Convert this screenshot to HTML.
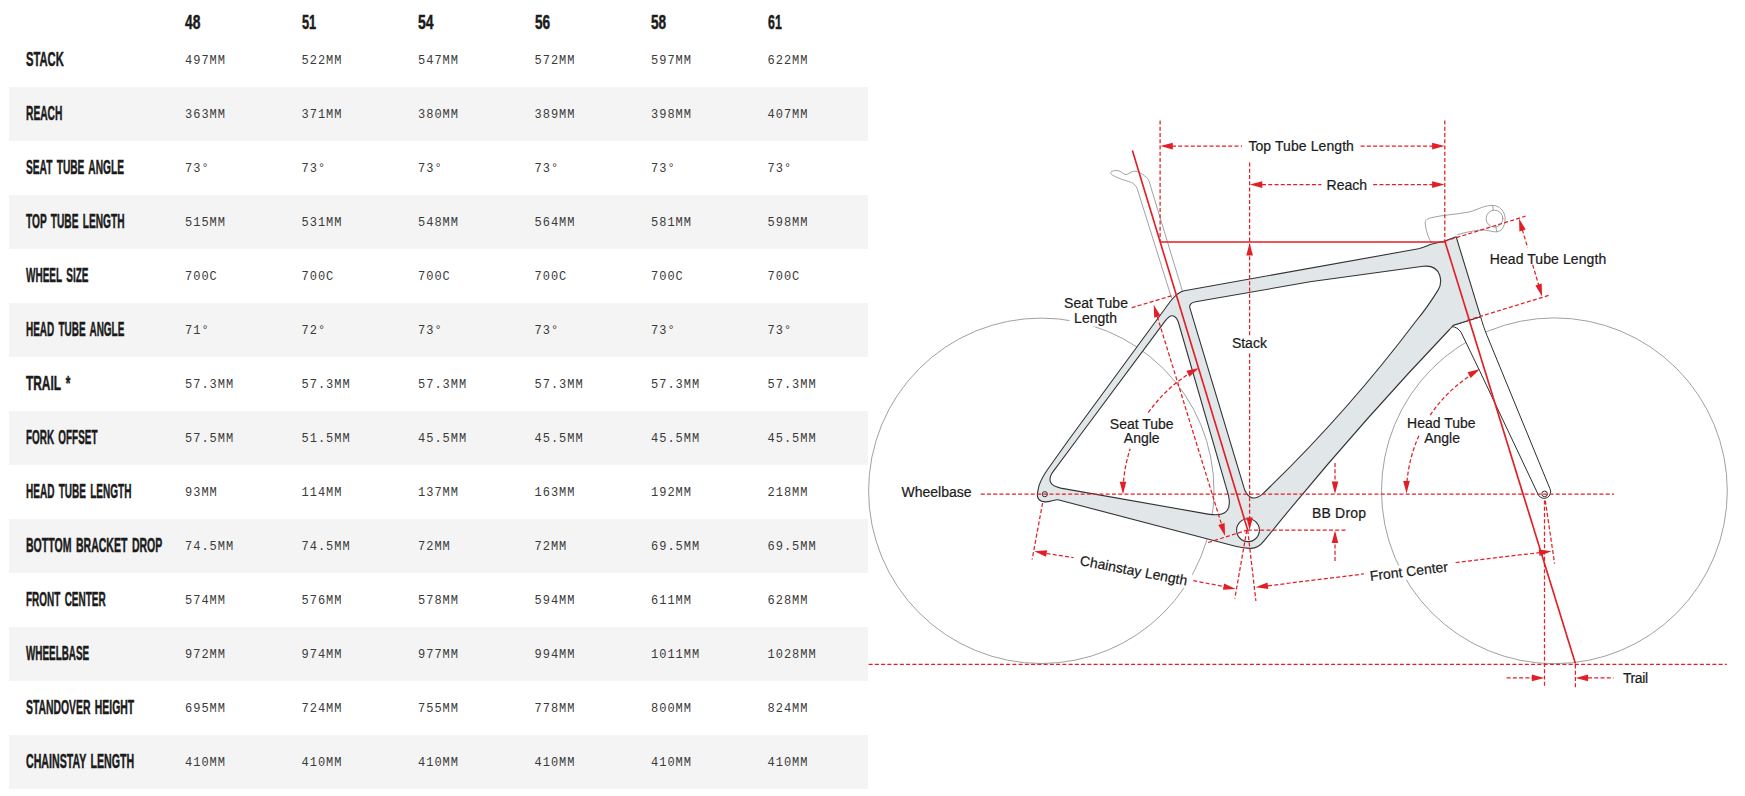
<!DOCTYPE html>
<html lang="en">
<head>
<meta charset="utf-8">
<title>Geometry</title>
<style>
html,body{margin:0;padding:0;background:#fff;}
body{width:1745px;height:796px;position:relative;overflow:hidden;font-family:"Liberation Sans",sans-serif;}
.geo{position:absolute;left:9px;top:0;width:859px;}
table.gt{border-collapse:collapse;border-spacing:0;table-layout:fixed;width:859px;}
table.gt th,table.gt td{padding:0;margin:0;text-align:left;vertical-align:middle;white-space:nowrap;overflow:visible;}
table.gt thead th{height:33px;font:bold 21px/20px "Liberation Sans",sans-serif;color:#1b1b1b;vertical-align:top;}
table.gt thead th .c{position:relative;top:11.6px;}
table.gt th.l{padding-left:16.7px;box-sizing:border-box;}
table.gt tbody tr{height:54px;}
table.gt tbody tr.g{background:#f4f4f4;}
table.gt tbody th{font:bold 21px/20px "Liberation Sans",sans-serif;color:#1b1b1b;}
table.gt .c{display:inline-block;transform-origin:0 50%;word-spacing:3px;-webkit-text-stroke:.5px #1b1b1b;}
table.gt td{font:12px/16px "Liberation Mono",monospace;color:#3a3a3a;letter-spacing:1px;}
table.gt tbody td{padding-top:2px;}
table.gt tbody th{padding-bottom:2px;}
svg.dg{position:absolute;left:0;top:0;}
svg.dg text{font-family:"Liberation Sans",sans-serif;font-size:14px;fill:#1a1a1a;stroke:#1a1a1a;stroke-width:.2px;}
</style>
</head>
<body>
<div class="geo">
<table class="gt">
<colgroup><col style="width:176px"><col style="width:116.5px"><col style="width:116.5px"><col style="width:116.5px"><col style="width:116.5px"><col style="width:116.5px"><col style="width:100.5px"></colgroup>
<thead>
<tr><th class="l"></th><th><span class="c" style="transform:scaleX(0.657)">48</span></th><th><span class="c" style="transform:scaleX(0.610)">51</span></th><th><span class="c" style="transform:scaleX(0.667)">54</span></th><th><span class="c" style="transform:scaleX(0.648)">56</span></th><th><span class="c" style="transform:scaleX(0.648)">58</span></th><th><span class="c" style="transform:scaleX(0.590)">61</span></th></tr>
</thead>
<tbody>
<tr class="w"><th class="l"><span class="c" style="transform:scaleX(0.533)">STACK</span></th><td>497MM</td><td>522MM</td><td>547MM</td><td>572MM</td><td>597MM</td><td>622MM</td></tr>
<tr class="g"><th class="l"><span class="c" style="transform:scaleX(0.487)">REACH</span></th><td>363MM</td><td>371MM</td><td>380MM</td><td>389MM</td><td>398MM</td><td>407MM</td></tr>
<tr class="w"><th class="l"><span class="c" style="transform:scaleX(0.485)">SEAT TUBE ANGLE</span></th><td>73°</td><td>73°</td><td>73°</td><td>73°</td><td>73°</td><td>73°</td></tr>
<tr class="g"><th class="l"><span class="c" style="transform:scaleX(0.484)">TOP TUBE LENGTH</span></th><td>515MM</td><td>531MM</td><td>548MM</td><td>564MM</td><td>581MM</td><td>598MM</td></tr>
<tr class="w"><th class="l"><span class="c" style="transform:scaleX(0.477)">WHEEL SIZE</span></th><td>700C</td><td>700C</td><td>700C</td><td>700C</td><td>700C</td><td>700C</td></tr>
<tr class="g"><th class="l"><span class="c" style="transform:scaleX(0.475)">HEAD TUBE ANGLE</span></th><td>71°</td><td>72°</td><td>73°</td><td>73°</td><td>73°</td><td>73°</td></tr>
<tr class="w"><th class="l"><span class="c" style="transform:scaleX(0.566)">TRAIL *</span></th><td>57.3MM</td><td>57.3MM</td><td>57.3MM</td><td>57.3MM</td><td>57.3MM</td><td>57.3MM</td></tr>
<tr class="g"><th class="l"><span class="c" style="transform:scaleX(0.473)">FORK OFFSET</span></th><td>57.5MM</td><td>51.5MM</td><td>45.5MM</td><td>45.5MM</td><td>45.5MM</td><td>45.5MM</td></tr>
<tr class="w"><th class="l"><span class="c" style="transform:scaleX(0.478)">HEAD TUBE LENGTH</span></th><td>93MM</td><td>114MM</td><td>137MM</td><td>163MM</td><td>192MM</td><td>218MM</td></tr>
<tr class="g"><th class="l"><span class="c" style="transform:scaleX(0.502)">BOTTOM BRACKET DROP</span></th><td>74.5MM</td><td>74.5MM</td><td>72MM</td><td>72MM</td><td>69.5MM</td><td>69.5MM</td></tr>
<tr class="w"><th class="l"><span class="c" style="transform:scaleX(0.476)">FRONT CENTER</span></th><td>574MM</td><td>576MM</td><td>578MM</td><td>594MM</td><td>611MM</td><td>628MM</td></tr>
<tr class="g"><th class="l"><span class="c" style="transform:scaleX(0.471)">WHEELBASE</span></th><td>972MM</td><td>974MM</td><td>977MM</td><td>994MM</td><td>1011MM</td><td>1028MM</td></tr>
<tr class="w"><th class="l"><span class="c" style="transform:scaleX(0.495)">STANDOVER HEIGHT</span></th><td>695MM</td><td>724MM</td><td>755MM</td><td>778MM</td><td>800MM</td><td>824MM</td></tr>
<tr class="g"><th class="l"><span class="c" style="transform:scaleX(0.506)">CHAINSTAY LENGTH</span></th><td>410MM</td><td>410MM</td><td>410MM</td><td>410MM</td><td>410MM</td><td>410MM</td></tr>
</tbody>
</table>
</div>
<svg class="dg" width="1745" height="796" viewBox="0 0 1745 796">
<g fill="none" stroke="#959595" stroke-width="0.9"><circle cx="1041.3" cy="490.8" r="172.7"/><circle cx="1554.4" cy="490.8" r="172.9"/></g>
<g fill="#fff" stroke="none"><rect x="1069.5" y="310.5" width="51.5" height="16"/><rect x="-2" y="-11.8" width="115" height="15" transform="translate(1079.3 565) rotate(10.8)"/><rect x="-2" y="-11.8" width="84" height="15" transform="translate(1370.4 580.9) rotate(-7)"/></g>
<g fill="none" stroke="#969696" stroke-width="0.9" stroke-linejoin="round" stroke-linecap="round">
<path d="M1182.4 291 L1150.8 187 C1149.5 181 1147.5 177.5 1144.7 176 C1140.5 172.5 1137 170.8 1133.4 171.3 C1130 172.2 1128.5 174.6 1125.8 174.5 C1123 174.2 1121 171 1118.3 170.7 C1115 170.2 1111.5 170.8 1110.7 172.4 C1110.2 174.5 1114 176 1118.3 177.9 C1122.5 180 1127.5 180.8 1131.5 182.5 C1134.5 184 1136 186 1137.1 188.4 L1171.6 298"/>
<path d="M1431.3 242.6 C1428.5 238 1426.5 232 1425.7 227.1 C1425 223.5 1425 221.8 1425.9 220.5 C1427 218.8 1429 218.2 1431.3 217.7 C1437 216.4 1442.5 215.6 1448.3 214.9 C1455.5 214 1462 213.4 1469 212 C1474 210.8 1478 208.8 1482.2 207.3 C1485.8 206.1 1489 205.4 1492.6 205.4 C1498 205.6 1502 208.8 1503.9 213 C1505.2 216 1505.4 219.2 1504.8 222.4 C1504.2 225.6 1503 228.2 1501.1 230 C1499.2 231.5 1497 232 1494.5 231.8 C1490.5 231.2 1486.3 230 1482.2 230 C1477.8 230.1 1473.5 231 1469 231.8 C1465 232.6 1461.2 233.6 1457.7 234.7"/>
<circle cx="1494.5" cy="218.6" r="8.4"/>
<path d="M1492.7 205.5 L1493.2 210.3 M1495.9 227 L1496.7 231.8"/>
</g>
<path d="M1480.6 316.7 C1482.6 323.5 1484.3 329 1487 335.5 L1549.9 488.6 A6.3 6.3 0 0 1 1538.4 495 L1479.6 370.7 L1461.1 332.4 C1458.6 328.6 1455.4 326.8 1451.9 326.6 L1453.3 325.3 Z" fill="#fff" stroke="#2e2e2e" stroke-width="1" stroke-linejoin="round"/>
<path fill-rule="evenodd" fill="#e1e6e8" stroke="#333" stroke-width="1.1" stroke-linejoin="round" d="M1171 300.5 Q1178.3 291.9 1184.3 290.8 L1418.4 248.8 C1424 247.6 1427.5 245.6 1431 244.3 L1444.8 241 L1456.1 236.7 L1480.6 316.7 L1453.3 325.3 L1449.5 329.5 Q1352.5 431.3 1263.8 541.2 C1260 546 1256 548.4 1251 548.4 C1245.5 548.6 1240.5 547.6 1235.4 546.3 L1058 499.7 C1054 499.6 1050.5 501.8 1045.4 501.9 C1039.5 501.9 1036.6 498 1037.5 493.2 C1038.2 489 1038.6 487 1039.2 485.2 C1041.5 478.5 1044 474.5 1048.3 468.5 L1068.6 440 Z M1165.4 320.7 C1168 317.2 1171 315.2 1173.5 316 C1176 317 1177.6 319.6 1178.6 323 L1228.4 495.2 Q1233.9 518.6 1208 514.1 L1060.7 488.1 Q1045 484.5 1052.2 472.8 L1076.6 440 Z M1190 308.4 Q1188.4 303.1 1195.6 301.8 L1310 281.8 L1423.1 266.3 C1430.5 265.4 1437 268 1439.6 275 C1441.4 280.5 1440.6 286 1438.2 289.9 C1433.5 297.5 1425 310.5 1416.8 320 Q1346.5 413.4 1262.5 494.1 Q1251 503.5 1244.8 490.3 Z"/>
<circle cx="1248" cy="530.2" r="11.4" fill="#fff" stroke="#333" stroke-width="1.1"/>
<circle cx="1044.8" cy="494.2" r="2.6" fill="none" stroke="#2e2e2e" stroke-width="1"/>
<circle cx="1544.6" cy="493.9" r="2.8" fill="none" stroke="#2e2e2e" stroke-width="1"/>
<g fill="none" stroke="#e21f26" stroke-width="1.25" stroke-dasharray="4 2.25">
<line x1="1160.1" y1="120.4" x2="1160.1" y2="242.0"/>
<line x1="1444.8" y1="120.4" x2="1444.8" y2="241.0"/>
<line x1="1249.6" y1="162.4" x2="1249.6" y2="336.0"/>
<line x1="1249.6" y1="353.5" x2="1249.6" y2="520.0"/>
<line x1="1172.0" y1="146.1" x2="1242.0" y2="146.1"/>
<line x1="1360.6" y1="146.1" x2="1433.0" y2="146.1"/>
<line x1="1262.0" y1="184.6" x2="1321.4" y2="184.6"/>
<line x1="1373.2" y1="184.6" x2="1433.0" y2="184.6"/>
<line x1="1444.5" y1="241.3" x2="1525.6" y2="216.2"/>
<line x1="1467.1" y1="320.4" x2="1550.1" y2="295.0"/>
<line x1="1522.3" y1="229.6" x2="1527.7" y2="247.9"/>
<line x1="1532.7" y1="264.8" x2="1538.8" y2="285.5"/>
<line x1="1131.7" y1="307.7" x2="1173.9" y2="295.1"/>
<line x1="1247.7" y1="530.0" x2="1206.2" y2="543.1"/>
<line x1="1157.3" y1="316.6" x2="1221.5" y2="524.2"/>
<path d="M1123.5 481.6 A141.3 141.3 0 0 1 1130.2 448.8"/>
<path d="M1148.3 412.7 A141.3 141.3 0 0 1 1189.4 373.6"/>
<path d="M1407.0 481.7 A141.0 141.0 0 0 1 1419.1 435.3"/>
<path d="M1430.2 415.2 A141.0 141.0 0 0 1 1470.8 375.2"/>
<line x1="980.7" y1="494.0" x2="1614.0" y2="494.0"/>
<line x1="868.6" y1="664.3" x2="1726.8" y2="664.3"/>
<line x1="1247.7" y1="530.2" x2="1346.5" y2="530.2"/>
<line x1="1335.0" y1="463.0" x2="1335.0" y2="482.0"/>
<line x1="1335.0" y1="561.0" x2="1335.0" y2="542.5"/>
<line x1="1042.6" y1="503.0" x2="1032.1" y2="559.5"/>
<line x1="1246.8" y1="530.1" x2="1234.8" y2="598.7"/>
<line x1="1046.5" y1="553.5" x2="1073.5" y2="557.6"/>
<line x1="1193.3" y1="580.6" x2="1223.5" y2="586.5"/>
<line x1="1247.7" y1="530.0" x2="1255.9" y2="601.0"/>
<line x1="1545.3" y1="500.6" x2="1554.6" y2="563.6"/>
<line x1="1268.0" y1="585.8" x2="1363.8" y2="573.9"/>
<line x1="1455.6" y1="562.5" x2="1539.0" y2="552.7"/>
<line x1="1544.5" y1="500.5" x2="1544.5" y2="688.0"/>
<line x1="1575.4" y1="664.5" x2="1575.4" y2="688.0"/>
<line x1="1506.6" y1="677.9" x2="1532.0" y2="677.9"/>
<line x1="1588.0" y1="677.9" x2="1613.6" y2="677.9"/>
</g>
<g fill="none" stroke="#e21f26" stroke-width="1.65">
<line x1="1132.4" y1="150.5" x2="1247.7" y2="530.0"/>
<line x1="1444.8" y1="241.0" x2="1575.4" y2="663.4"/>
<line x1="1160.1" y1="242.0" x2="1444.8" y2="242.0"/>
</g>
<g fill="#e21f26" stroke="none">
<polygon points="1160.3,146.1 1172.8,142.8 1172.8,149.4"/>
<polygon points="1444.6,146.1 1432.1,149.4 1432.1,142.8"/>
<polygon points="1249.8,184.6 1262.3,181.3 1262.3,187.9"/>
<polygon points="1444.6,184.6 1432.1,187.9 1432.1,181.3"/>
<polygon points="1249.6,243.0 1252.9,255.5 1246.3,255.5"/>
<polygon points="1249.6,530.0 1246.3,517.5 1252.9,517.5"/>
<polygon points="1519.0,218.6 1525.7,229.6 1519.4,231.5"/>
<polygon points="1542.1,296.5 1535.4,285.5 1541.7,283.6"/>
<polygon points="1153.7,304.8 1160.5,315.8 1154.2,317.7"/>
<polygon points="1225.1,535.9 1218.3,524.9 1224.6,523.0"/>
<polygon points="1123.0,494.2 1119.7,481.7 1126.3,481.7"/>
<polygon points="1199.0,368.0 1189.4,376.7 1186.4,370.8"/>
<polygon points="1406.5,493.4 1403.2,480.9 1409.8,480.9"/>
<polygon points="1480.1,369.1 1470.7,378.0 1467.5,372.2"/>
<polygon points="1335.0,494.0 1331.7,481.5 1338.3,481.5"/>
<polygon points="1335.0,530.4 1338.3,542.9 1331.7,542.9"/>
<polygon points="1034.3,551.2 1047.2,550.3 1046.0,556.7"/>
<polygon points="1235.8,588.9 1222.9,589.8 1224.1,583.4"/>
<polygon points="1255.5,587.3 1267.5,582.5 1268.3,589.1"/>
<polygon points="1551.5,551.2 1539.5,556.0 1538.7,549.4"/>
<polygon points="1544.3,677.9 1531.8,681.2 1531.8,674.6"/>
<polygon points="1575.6,677.9 1588.1,674.6 1588.1,681.2"/>
</g>
<g>
<text x="1248.4" y="151.1" textLength="105.5">Top Tube Length</text>
<text x="1326.6" y="189.9">Reach</text>
<text x="1489.7" y="263.5" textLength="116.5">Head Tube Length</text>
<text x="1064.1" y="308.3">Seat Tube</text>
<text x="1074.1" y="323.0">Length</text>
<text x="1231.9" y="348.4">Stack</text>
<text x="1109.8" y="429.2">Seat Tube</text>
<text x="1123.8" y="442.8">Angle</text>
<text x="1407.1" y="428.4">Head Tube</text>
<text x="1424.2" y="442.9">Angle</text>
<text x="901.5" y="497.1">Wheelbase</text>
<text x="1312.0" y="517.7" textLength="54">BB Drop</text>
<text x="1079.3" y="565.0" transform="rotate(10.8 1079.3 565)">Chainstay Length</text>
<text x="1370.4" y="580.9" transform="rotate(-7 1370.4 580.9)">Front Center</text>
<text x="1623.0" y="682.8" textLength="25">Trail</text>
</g>
</svg>
</body>
</html>
